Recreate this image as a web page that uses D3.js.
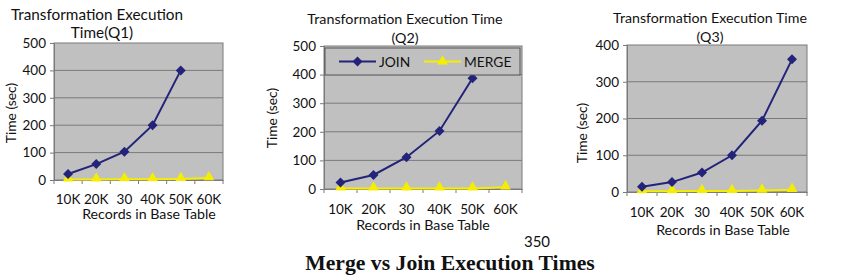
<!DOCTYPE html>
<html><head><meta charset="utf-8">
<script src="https://cdn.jsdelivr.net/npm/d3@7"></script>
<style>
body{margin:0;background:#fff;}
svg{display:block;}
text{font-family:Lato,"Open Sans",sans-serif;fill:#111;}
</style></head>
<body>
<svg id="c" width="851" height="275"></svg>
<script>
const categories = ["10K","20K","30","40K","50K","60K"];
const q1Join  = [22, 58, 103, 200, 400, null];
const q1Merge = [2, 2, 3, 3, 4, 7];
const q2Join  = [23, 49, 111, 203, 387, null];
const q2Merge = [2, 2, 2, 2, 2, 6];
const q3Join  = [14, 27, 53, 100, 194, 361];
const q3Merge = [2, 2, 3, 3, 4, 6];
const q1Ticks = [0, 100, 200, 300, 400, 500];
const q2Ticks = [0, 100, 200, 300, 400, 500];
const q3Ticks = [0, 100, 200, 300, 400];
const seriesNames = ["JOIN", "MERGE"];
const titles = [["Transformation Execution","Time(Q1)"],["Transformation Execution Time","(Q2)"],["Transformation Execution Time","(Q3)"]];
const xTitle = "Records in Base Table";
const yTitle = "Time (sec)";
const pageNumber = "350";
const caption = "Merge vs Join Execution Times";

const svg = d3.select("#c");
const joinColor = "#23237a", mergeColor = "#f5ee00";

function drawChart(cfg){
  const g = svg.append("g");
  const x = d3.scaleBand().domain(categories).range([cfg.l, cfg.r]);
  const y = d3.scaleLinear().domain([0, d3.max(cfg.ticks)]).range([cfg.b, cfg.t]);
  g.append("rect").attr("x",cfg.l).attr("y",cfg.t).attr("width",cfg.r-cfg.l).attr("height",cfg.b-cfg.t)
    .attr("fill","#c0c0c0").attr("stroke","#7a7a7a").attr("stroke-width",1);
  g.selectAll(".grid").data(cfg.ticks.filter(d=>d>0 && d<d3.max(cfg.ticks))).enter().append("line")
    .attr("x1",cfg.l).attr("x2",cfg.r).attr("y1",d=>y(d)).attr("y2",d=>y(d))
    .attr("stroke","#7a7a7a").attr("stroke-width",1);
  const ya = g.append("g").attr("transform",`translate(${cfg.l},0)`)
    .call(d3.axisLeft(y).tickValues(cfg.ticks).tickSize(4).tickPadding(4));
  ya.select(".domain").attr("stroke","#7a7a7a");
  ya.selectAll(".tick line").attr("stroke","#7a7a7a");
  ya.selectAll("text").attr("font-size",13.5).attr("font-family","Lato,sans-serif").attr("fill","#111");
  const xa = g.append("g").attr("transform",`translate(0,${cfg.b})`)
    .call(d3.axisBottom(x).tickSize(0).tickPadding(cfg.xpad));
  xa.select(".domain").attr("stroke","#7a7a7a");
  xa.selectAll("text").attr("font-size",13.5).attr("font-family","Lato,sans-serif").attr("fill","#111");
  const bounds = categories.map(c=>x(c)).concat([cfg.r]);
  g.selectAll(".xt").data(bounds).enter().append("line")
    .attr("x1",d=>d).attr("x2",d=>d).attr("y1",cfg.b).attr("y2",cfg.b+4).attr("stroke","#7a7a7a");
  const line = d3.line().defined(d=>d.v!=null).x(d=>x(d.c)+x.bandwidth()/2).y(d=>y(d.v));
  const jd = categories.map((c,i)=>({c, v:cfg.join[i]}));
  const md = categories.map((c,i)=>({c, v:cfg.merge[i]}));
  g.append("path").datum(md).attr("d",line).attr("fill","none").attr("stroke",mergeColor).attr("stroke-width",2);
  g.append("path").datum(jd).attr("d",line).attr("fill","none").attr("stroke",joinColor).attr("stroke-width",2);
  const diamond = d3.symbol().type(d3.symbolDiamond2 || d3.symbolDiamond).size(64);
  const tri = d3.symbol().type(d3.symbolTriangle).size(50);
  g.selectAll(".mm").data(md.filter(d=>d.v!=null)).enter().append("path").attr("d",tri)
    .attr("transform",d=>`translate(${x(d.c)+x.bandwidth()/2},${y(d.v)-1})`).attr("fill",mergeColor);
  g.selectAll(".jm").data(jd.filter(d=>d.v!=null)).enter().append("path").attr("d",diamond)
    .attr("transform",d=>`translate(${x(d.c)+x.bandwidth()/2},${y(d.v)})`).attr("fill",joinColor);
  g.append("text").attr("x",cfg.tx).attr("y",cfg.ty1).attr("text-anchor","middle").attr("font-size",cfg.tfs).text(cfg.title[0]);
  g.append("text").attr("x",cfg.tx2).attr("y",cfg.ty2).attr("text-anchor","middle").attr("font-size",cfg.tfs).text(cfg.title[1]);
  g.append("text").attr("x",cfg.xtx).attr("y",cfg.xty).attr("text-anchor","middle").attr("font-size",14.2).text(xTitle);
  g.append("text").attr("transform",`translate(${cfg.ytx},${cfg.yty}) rotate(-90)`).attr("text-anchor","middle").attr("font-size",13.8).text(yTitle);
  if(cfg.legend){
    const L = cfg.legend;
    g.append("rect").attr("x",L.x).attr("y",L.y).attr("width",L.w).attr("height",L.h)
      .attr("fill","#c0c0c0").attr("stroke","#555").attr("stroke-width",1);
    const cy = L.y + L.h/2;
    const items = [{n:seriesNames[0],c:joinColor,s:diamond,x0:L.x+14},{n:seriesNames[1],c:mergeColor,s:tri,x0:L.x+99}];
    items.forEach(it=>{
      g.append("line").attr("x1",it.x0).attr("x2",it.x0+37).attr("y1",cy).attr("y2",cy).attr("stroke",it.c).attr("stroke-width",2);
      g.append("path").attr("d",it.s).attr("transform",`translate(${it.x0+18.5},${cy})`).attr("fill",it.c);
      g.append("text").attr("x",it.x0+40).attr("y",cy+5).attr("font-size",13.8).text(it.n);
    });
  }
}

drawChart({l:54,r:223,t:43,b:180,ticks:q1Ticks,join:q1Join,merge:q1Merge,title:titles[0],tfs:15.3,
  tx:97,ty1:20,tx2:102,ty2:38,xtx:149,xty:219,ytx:16,yty:113,xpad:14});
drawChart({l:324,r:522,t:46,b:189,ticks:q2Ticks,join:q2Join,merge:q2Merge,title:titles[1],tfs:14.3,
  tx:405,ty1:24,tx2:405,ty2:43,xtx:423,xty:230,ytx:277,yty:118,xpad:15,
  legend:{x:325,y:48,w:195,h:27}});
drawChart({l:627,r:807,t:45,b:192,ticks:q3Ticks,join:q3Join,merge:q3Merge,title:titles[2],tfs:14.2,
  tx:710,ty1:23,tx2:710,ty2:42,xtx:723,xty:235,ytx:587,yty:133,xpad:15});

svg.append("text").attr("x",537).attr("y",247).attr("text-anchor","middle").attr("font-size",15)
  .attr("font-family","Lato,sans-serif").text(pageNumber);
svg.append("text").attr("x",450).attr("y",270).attr("text-anchor","middle").attr("font-size",21.7)
  .attr("font-weight","bold").style("font-family","'Liberation Serif','Times New Roman',serif").text(caption);
</script>
</body></html>
